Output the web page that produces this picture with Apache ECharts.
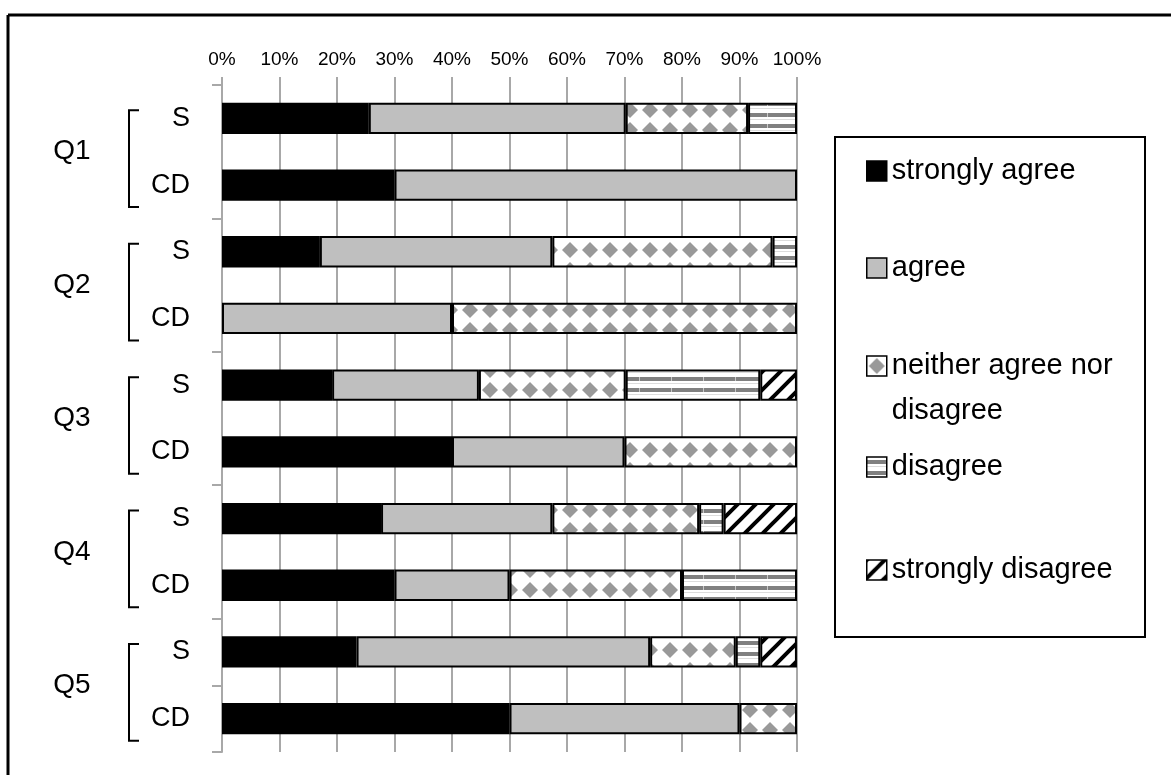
<!DOCTYPE html>
<html>
<head>
<meta charset="utf-8">
<script src="https://cdn.jsdelivr.net/npm/echarts@6/dist/echarts.min.js"></script>
<style>
  html, body { margin: 0; padding: 0; background: #fff; }
  #chart { width: 1171px; height: 775px; }
</style>
</head>
<body>
<div id="chart"></div>
<script>
// Survey questions, respondent groups and answer scale
const questions = ['Q1', 'Q2', 'Q3', 'Q4', 'Q5'];
const groups = ['S', 'CD'];
const responses = ['strongly agree', 'agree', 'neither agree nor disagree', 'disagree', 'strongly disagree'];
const responseLines = ['strongly agree', 'agree', 'neither agree nor\ndisagree', 'disagree', 'strongly disagree'];
const xTicks = [0, 10, 20, 30, 40, 50, 60, 70, 80, 90, 100];

// Share of answers (%) for each row: Q1 S, Q1 CD, Q2 S, Q2 CD, ... Q5 CD
const stronglyAgree    = [25.53, 30, 17.02,  0, 19.15, 40, 27.66, 30, 23.40, 50];
const agree            = [44.68, 70, 40.43, 40, 25.53, 30, 29.79, 20, 51.06, 40];
const neither          = [21.28,  0, 38.30, 60, 25.53, 30, 25.53, 30, 14.89, 10];
const disagree         = [ 8.51,  0,  4.26,  0, 23.40,  0,  4.26, 20,  4.26,  0];
const stronglyDisagree = [ 0,     0,  0,     0,  6.38,  0, 12.77,  0,  6.38,  0];

const rows = [];
questions.forEach(q => groups.forEach(g => rows.push(q + ' ' + g)));

// ---- fonts ----
function hasFont(name) {
  const ctx = document.createElement('canvas').getContext('2d');
  const s = 'strongly agree Q1 CD 0123';
  ctx.font = '40px monospace';
  const a = ctx.measureText(s).width;
  ctx.font = '40px "' + name + '", monospace';
  return ctx.measureText(s).width !== a;
}
const narrowName = ['Liberation Sans Narrow', 'Arial Narrow'].find(hasFont);
const narrow = !!narrowName;
const narrowFamily = narrow ? '"' + narrowName + '"' : '"Liberation Sans", Arial, sans-serif';
const baseFamily = '"Liberation Sans", Arial, sans-serif';
const legendSize = narrow ? 37 : 29;
const qSize = narrow ? 33 : 28;

// ---- fill textures ----
function tile(w, h, draw) {
  const c = document.createElement('canvas');
  c.width = w; c.height = h;
  const g = c.getContext('2d');
  g.fillStyle = '#fff';
  g.fillRect(0, 0, w, h);
  draw(g);
  return c;
}
const diamondTile = tile(20, 20, g => {
  g.fillStyle = '#999999';
  g.beginPath();
  g.moveTo(10, 2); g.lineTo(18, 10); g.lineTo(10, 18); g.lineTo(2, 10);
  g.closePath(); g.fill();
});
const stripeTile = tile(32, 11, g => {
  g.fillStyle = '#808080';
  g.fillRect(0, 3, 32, 4);
  g.fillStyle = '#c8c8c8';
  g.fillRect(31, 3, 1, 4);
  g.fillStyle = '#dcdcdc';
  g.fillRect(0, 9, 32, 1);
});
const hatchTile = tile(18, 18, g => {
  g.strokeStyle = '#000';
  g.lineWidth = 4;
  g.beginPath();
  g.moveTo(-4, 22); g.lineTo(22, -4);
  g.moveTo(-4, 4); g.lineTo(4, -4);
  g.moveTo(14, 22); g.lineTo(22, 14);
  g.stroke();
});

const fills = [
  '#000000',
  '#bfbfbf',
  { image: diamondTile, repeat: 'repeat' },
  { image: stripeTile, repeat: 'repeat' },
  { image: hatchTile, repeat: 'repeat' }
];
const values = [stronglyAgree, agree, neither, disagree, stronglyDisagree];

const gridColor = '#a8a8a8';

const chart = echarts.init(document.getElementById('chart'), null, { renderer: 'canvas' });

const series = responses.map((name, i) => ({
  name: name,
  type: 'bar',
  stack: 'total',
  barWidth: '47%',
  yAxisIndex: 0,
  itemStyle: { color: fills[i], borderColor: '#000', borderWidth: 2 },
  emphasis: { disabled: true },
  data: values[i].map(v => (v > 0 ? v : '-'))
}));

// One legend block per answer, stacked in a framed box on the right.
// A wrapped name gets a blank leading line so its first line sits beside the swatch.
const legendCenters = [171, 268, 366, 467, 570];
const legends = responses.map((name, i) => {
  const lines = responseLines[i].split('\n');
  const twoLine = lines.length > 1;
  const lh = twoLine ? 45 : 40;
  const text = twoLine ? '\n' + responseLines[i] : responseLines[i];
  const blockH = twoLine ? lh * 3 : lh;
  return {
    data: [name],
    orient: 'vertical',
    left: 866,
    top: legendCenters[i] - blockH / 2,
    padding: 0,
    itemWidth: 20,
    itemHeight: 20,
    icon: 'rect',
    selectedMode: false,
    itemStyle: { borderColor: '#000', borderWidth: 1.5 },
    formatter: () => text,
    textStyle: {
      fontFamily: narrowFamily,
      fontSize: legendSize,
      color: '#000',
      lineHeight: lh
    }
  };
});

chart.setOption({
  backgroundColor: '#fff',
  animation: false,
  grid: { left: 222, right: 374, top: 85, bottom: 23, containLabel: false },
  xAxis: {
    type: 'value',
    position: 'top',
    min: 0,
    max: 100,
    interval: 10,
    axisLine: { show: false },
    axisTick: { show: true, length: 8, lineStyle: { color: gridColor, width: 2 } },
    axisLabel: {
      margin: 16,
      fontFamily: baseFamily,
      fontSize: 19,
      color: '#000',
      formatter: v => (xTicks.indexOf(v) >= 0 ? v + '%' : '')
    },
    splitLine: { show: true, lineStyle: { color: gridColor, width: 2 } }
  },
  yAxis: [
    {
      type: 'category',
      data: rows,
      inverse: true,
      axisLine: { show: true, lineStyle: { color: gridColor, width: 2 } },
      axisTick: { show: true, interval: 1, length: 10, lineStyle: { color: gridColor, width: 2 } },
      axisLabel: {
        interval: 0,
        margin: 32,
        fontFamily: baseFamily,
        fontSize: 27,
        color: '#000',
        padding: [6, 0, 0, 0],
        formatter: v => v.split(' ')[1]
      },
      splitLine: { show: false }
    },
    {
      type: 'category',
      data: questions,
      inverse: true,
      position: 'left',
      axisLine: { show: false },
      axisTick: { show: false },
      axisLabel: {
        interval: 0,
        margin: 150,
        align: 'center',
        fontFamily: narrowFamily,
        fontSize: qSize,
        color: '#000'
      },
      splitLine: { show: false }
    }
  ],
  legend: legends,
  series: series
});

// Brackets joining each question's two rows, plus the outer frame and legend box
const graphics = [
  { type: 'line', shape: { x1: 8, y1: 15, x2: 1171, y2: 15 }, style: { stroke: '#000', lineWidth: 3 }, silent: true },
  { type: 'line', shape: { x1: 8, y1: 15, x2: 8, y2: 775 }, style: { stroke: '#000', lineWidth: 3 }, silent: true },
  { type: 'rect', shape: { x: 835, y: 137, width: 310, height: 500 }, style: { fill: null, stroke: '#000', lineWidth: 2 }, z: -1, silent: true }
];
const axisX = chart.convertToPixel({ xAxisIndex: 0 }, 0);
questions.forEach(q => {
  const yTop = chart.convertToPixel({ yAxisIndex: 0 }, q + ' S') - 8;
  const yBot = chart.convertToPixel({ yAxisIndex: 0 }, q + ' CD') + 22;
  const xv = axisX - 93, xe = axisX - 83;
  graphics.push({
    type: 'polyline',
    shape: { points: [[xe, yTop], [xv, yTop], [xv, yBot], [xe, yBot]] },
    style: { stroke: '#000', lineWidth: 2, fill: null },
    silent: true
  });
});
chart.setOption({ graphic: graphics });
</script>
</body>
</html>
